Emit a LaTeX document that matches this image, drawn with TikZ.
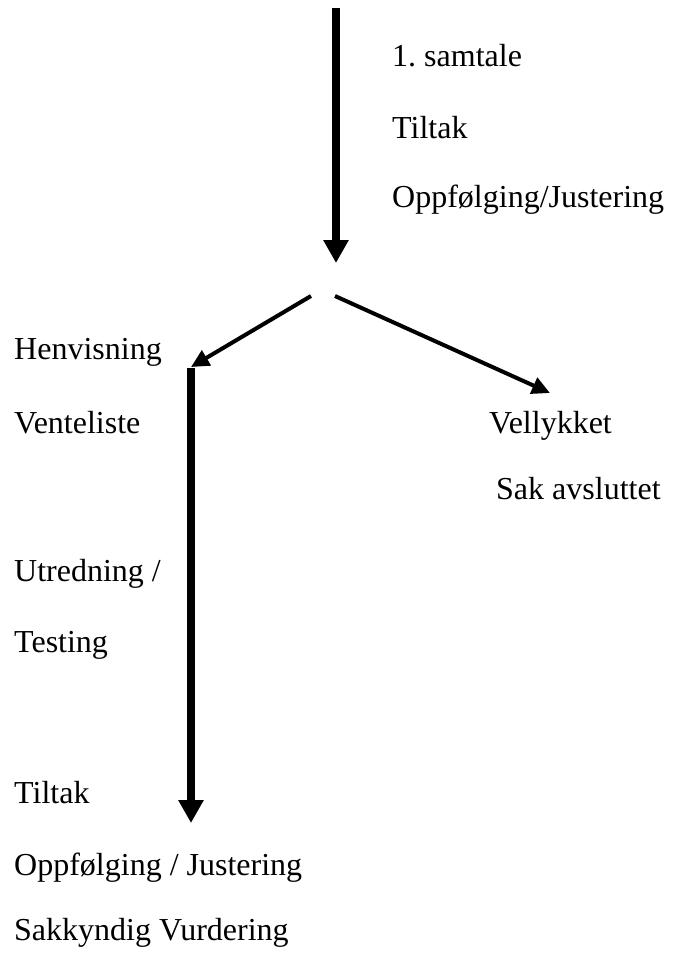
\documentclass[tikz,border=0pt]{standalone}
\usepackage{fontspec}
\setmainfont{Liberation Serif}
\usetikzlibrary{arrows.meta}
\begin{document}
\begin{tikzpicture}[x=1pt,y=-1pt,
  lbl/.style={anchor=base west,inner sep=0pt,font=\fontsize{32}{38}\selectfont},
  thickarrow/.style={line width=8pt,-{Triangle[length=23pt,width=24pt]}},
  thinarrow/.style={line width=4pt,-{Triangle[length=18pt,width=17pt]}}]
\useasboundingbox (0,0) rectangle (673,959);
% texts
\node[lbl] (t1) at (392,66) {1.\ samtale};
\node[lbl] (t2) at (392,138) {Tiltak};
\node[lbl] (t3) at (392,207) {Oppfølging/Justering};
\node[lbl] (l1) at (14,359) {Henvisning};
\node[lbl] (l2) at (14,433) {Venteliste};
\node[lbl] (r1) at (489,433) {Vellykket};
\node[lbl] (r2) at (496,499) {Sak avsluttet};
\node[lbl] (l3) at (14,581) {Utredning /};
\node[lbl] (l4) at (14,652) {Testing};
\node[lbl] (l5) at (14,803) {Tiltak};
\node[lbl] (l6) at (14,875) {Oppfølging / Justering};
\node[lbl] (l7) at (14,940) {Sakkyndig Vurdering};
% arrow end points
\coordinate (topstart) at (336,8);
\coordinate (topend) at (336,263);
\coordinate (splitL) at (311,296);
\coordinate (splitR) at (335,296);
\coordinate (leftend) at (191,367);
\coordinate (rightend) at (550,393);
\coordinate (stemtop) at (191,368);
\coordinate (stemend) at (191,823);
% arrows
\draw[thickarrow] (topstart) -- (topend);
\draw[thinarrow] (splitL) -- (leftend);
\draw[thinarrow] (splitR) -- (rightend);
\draw[thickarrow] (stemtop) -- (stemend);
\end{tikzpicture}
\end{document}
